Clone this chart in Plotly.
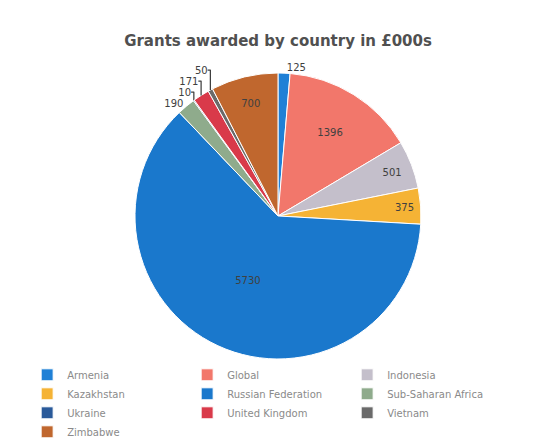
import plotly.graph_objects as go

countries = ["Armenia", "Global", "Indonesia", "Kazakhstan", "Russian Federation",
             "Sub-Saharan Africa", "Ukraine", "United Kingdom", "Vietnam", "Zimbabwe"]
grants = [125, 1396, 501, 375, 5730, 190, 10, 171, 50, 700]
label_pos = ["outside", "inside", "inside", "inside", "inside",
             "outside", "outside", "outside", "outside", "inside"]
colors = ["#1f80d6", "#f2776b", "#c4bfcb", "#f5b335", "#1a78cc",
          "#8fab8c", "#2a5a9a", "#d93a4a", "#6a6a6a", "#c0672e"]

fig = go.Figure(go.Pie(
    labels=countries,
    values=grants,
    sort=False,
    direction="clockwise",
    rotation=0,
    textinfo="value",
    textposition=label_pos,
    insidetextorientation="horizontal",
    textfont=dict(family="DejaVu Sans", size=10, color="#404040"),
    marker=dict(colors=colors, line=dict(color="white", width=1)),
    domain=dict(x=[0.2486, 0.7753], y=[0.186, 0.8345]),
    hole=0,
))

fig.update_layout(
    width=543, height=441,
    margin=dict(l=0, r=0, t=0, b=0, autoexpand=False),
    paper_bgcolor="white",
    title=dict(text="<b>Grants awarded by country in £000s</b>", x=0.512, xanchor="center",
               y=0.907, yanchor="middle",
               font=dict(family="DejaVu Sans", size=15, color="#505050")),
    legend=dict(orientation="h", x=0.05, xanchor="left", y=0.183, yanchor="top",
                entrywidth=115, entrywidthmode="pixels",
                font=dict(family="DejaVu Sans", size=10, color="#8a8a8a"),
                itemwidth=30),
    showlegend=True,
)

fig.write_html("out.html",
               config={"displayModeBar": False},
               post_script="document.body.style.margin='0';document.body.style.overflow='hidden';")
